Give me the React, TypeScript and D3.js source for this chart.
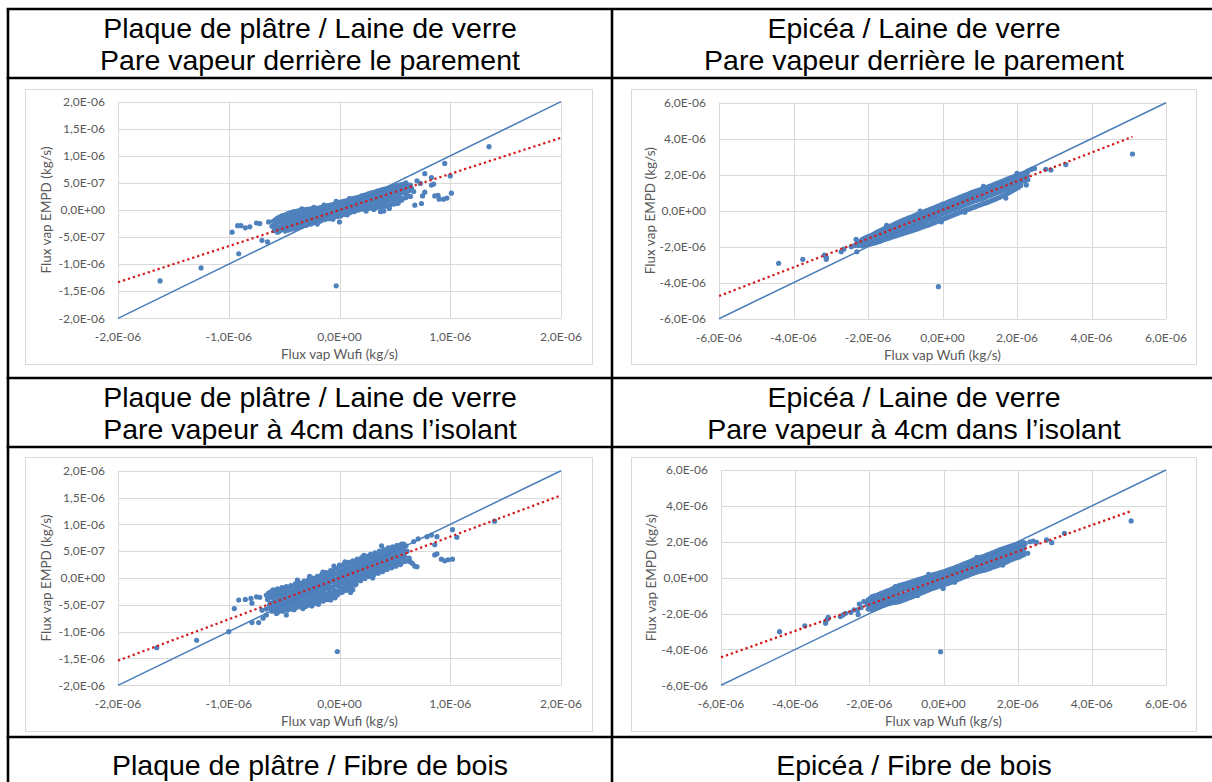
import React from 'react';
import * as d3 from 'd3';

// Point values are stored in units of 1e-8 kg/s: [Flux vap Wufi, Flux vap EMPD]
const UNIT = 1e-8;

// Plaque de plâtre / Laine de verre — pare vapeur derrière le parement
const ppLvParement: [number, number][] = [
  [-162,-131],[-125,-107],[-91,-81],[-97,-41],[-92,-29],[-89,-29],[-85,-33],[-81,-31],[-75,-24],[-72,-25],
  [-70,-56],[-65,-59],[-64,-22],[-3,-140],[0,-22],[37,-3],
  [135,117],[95,86],[100,63],[77,67],[83,60],[83,46],[70,54],[73,49],[62,46],[65,40],[101,31],[97,22],
  [94,20],[90,20],[89,27],[86,26],[75,26],[74,12],[68,9],[77,33],[85,48],
  [52,12],[56,18],[49,31],[67,34],[64,25],[61,28],[58,37],
  [-41,-3],[-34,2],[-23,5],[-14,9],[-3,16],[9,21],[-20,-26],[-6,-17],[7,-9],[24,-2],[31,1],[45,3],
  [-60,-21],[-61,-30],[-59,-38],
  [-56,-15],[-57,-24],[-55,-33],[-56,-41],
  [-52,-11],[-53,-20],[-51,-28],[-52,-36],
  [-48,-8],[-49,-16],[-47,-24],[-48,-32],[-49,-39],
  [-44,-5],[-45,-13],[-43,-21],[-44,-29],[-45,-36],
  [-40,-3],[-41,-10],[-39,-18],[-40,-26],[-41,-34],
  [-36,-1],[-37,-9],[-35,-16],[-36,-24],[-37,-32],
  [-32,0],[-33,-7],[-31,-14],[-32,-21],[-33,-29],
  [-28,1],[-29,-6],[-27,-13],[-28,-20],[-29,-27],
  [-24,2],[-25,-4],[-23,-11],[-24,-18],[-25,-25],
  [-20,3],[-21,-3],[-19,-9],[-20,-15],[-21,-22],
  [-16,5],[-17,-2],[-15,-8],[-16,-14],[-17,-20],
  [-12,7],[-13,0],[-11,-6],[-12,-12],[-13,-17],
  [-8,9],[-9,2],[-7,-4],[-8,-10],[-9,-15],
  [-4,11],[-5,4],[-3,-2],[-4,-8],[-5,-13],
  [0,14],[1,7],[-1,0],[0,-6],[1,-11],
  [4,16],[5,9],[3,3],[4,-3],[5,-8],
  [8,18],[9,12],[7,6],[8,0],[9,-5],
  [12,21],[13,14],[11,8],[12,2],[13,-3],
  [16,23],[17,17],[15,11],[16,5],[17,0],
  [20,26],[21,19],[19,13],[20,7],[21,2],
  [24,28],[25,22],[23,15],[24,9],[25,3],
  [28,31],[29,24],[27,17],[28,11],[29,4],
  [32,33],[33,27],[31,20],[32,13],[33,5],
  [36,36],[37,29],[35,22],[36,14],[37,6],
  [40,38],[41,31],[39,24],[40,16],[41,7],[40,-2],
  [44,40],[45,34],[43,26],[44,18],[45,9],
  [48,43],[49,36],[47,28],[48,20],[49,11],
  [52,45],[53,38],[51,30],[52,22],[53,13],
  [56,47],[57,40],[55,31],[56,21],
  [60,50],[61,42],[59,33],[60,23],
  [64,46],[63,36],
  [-58,-18],[-58,-27],[-58,-35],
  [-54,-13],[-54,-22],[-54,-31],[-54,-39],
  [-50,-10],[-50,-18],[-50,-26],[-50,-34],
  [-46,-6],[-46,-14],[-46,-22],[-46,-30],[-46,-37],
  [-42,-4],[-42,-12],[-42,-20],[-42,-28],[-42,-35],
  [-38,-2],[-38,-10],[-38,-17],[-38,-25],[-38,-33],
  [-34,0],[-34,-8],[-34,-15],[-34,-22],[-34,-30],
  [-30,1],[-30,-6],[-30,-13],[-30,-20],[-30,-28],
  [-26,2],[-26,-5],[-26,-12],[-26,-19],[-26,-26],
  [-22,3],[-22,-3],[-22,-10],[-22,-17],[-22,-23],
  [-18,4],[-18,-2],[-18,-8],[-18,-14],[-18,-21],
  [-14,6],[-14,-1],[-14,-7],[-14,-13],[-14,-18],
  [-10,8],[-10,1],[-10,-5],[-10,-11],[-10,-16],
  [-6,10],[-6,3],[-6,-3],[-6,-9],[-6,-14],
  [-2,12],[-2,5],[-2,-1],[-2,-7],[-2,-12],
  [2,15],[2,8],[2,2],[2,-4],[2,-9],
  [6,17],[6,10],[6,4],[6,-2],[6,-7],
  [10,20],[10,13],[10,7],[10,1],[10,-4],
  [14,22],[14,15],[14,9],[14,3],[14,-2],
  [18,24],[18,18],[18,12],[18,6],[18,1],
  [22,27],[22,20],[22,14],[22,8],[22,2],
  [26,30],[26,23],[26,16],[26,10],[26,3],
  [30,32],[30,25],[30,18],[30,12],[30,4],
  [34,35],[34,28],[34,21],[34,13],[34,5],
  [38,37],[38,30],[38,23],[38,15],[38,6],
  [42,39],[42,32],[42,25],[42,17],[42,8],
  [46,41],[46,35],[46,27],[46,19],[46,10],
  [50,44],[50,37],[50,29],[50,21],[50,12],
  [54,46],[54,39],[54,30],[54,21],
  [58,48],[58,41],[58,32],[58,22],
];

// Epicéa / Laine de verre — pare vapeur derrière le parement
const epLvParement: [number, number][] = [
  [-440,-292],[-375,-270],[-317,-246],[-312,-259],[-312,-270],[-272,-228],[-265,-214],[-245,-200],
  [-236,-194],[-232,-159],[-230,-228],[-214,-181],[-209,-190],[-11,-422],
  [200,208],[225,143],[225,208],[230,222],[239,230],[247,235],[277,230],[291,226],[331,256],[510,315],
  [209,152],[195,161],[-3,-62],[-150,-82],[-60,-2],[110,135],[170,70],[60,-8],
  [-228,-170],[-229,-182],[-227,-194],
  [-216,-160],[-217,-172],[-215,-184],[-216,-195],
  [-204,-148],[-205,-162],[-203,-176],[-204,-189],
  [-192,-138],[-193,-152],[-191,-167],[-192,-184],
  [-180,-125],[-181,-140],[-179,-158],[-180,-178],
  [-168,-112],[-169,-130],[-167,-150],[-168,-170],
  [-156,-100],[-157,-120],[-155,-140],[-156,-160],
  [-144,-90],[-145,-110],[-143,-132],[-144,-153],
  [-132,-78],[-133,-100],[-131,-122],[-132,-144],
  [-120,-66],[-121,-88],[-119,-112],[-120,-136],
  [-108,-55],[-109,-78],[-107,-103],[-108,-128],
  [-96,-45],[-97,-69],[-95,-95],[-96,-120],
  [-84,-35],[-85,-60],[-83,-87],[-84,-113],
  [-72,-25],[-73,-50],[-71,-78],[-72,-104],
  [-60,-15],[-61,-40],[-59,-68],[-60,-95],
  [-48,-5],[-49,-30],[-47,-58],[-48,-86],
  [-36,5],[-37,-20],[-35,-48],[-36,-78],
  [-24,15],[-25,-10],[-23,-38],[-24,-68],
  [-12,25],[-13,0],[-11,-28],[-12,-58],
  [0,36],[1,10],[-1,-18],[0,-48],
  [12,45],[13,20],[11,-8],[12,-38],
  [24,55],[25,30],[23,2],[24,-28],
  [36,65],[37,40],[35,12],[36,-18],
  [48,75],[49,50],[47,22],[48,-8],
  [60,85],[61,60],[59,32],[60,2],
  [72,95],[73,70],[71,42],[72,10],
  [84,105],[85,80],[83,52],[84,19],
  [96,113],[97,88],[95,60],[96,29],
  [108,121],[109,96],[107,68],[108,38],
  [120,130],[121,106],[119,78],[120,46],
  [132,140],[133,116],[131,88],[132,56],
  [144,150],[145,126],[143,98],[144,66],
  [156,160],[157,136],[155,108],[156,77],
  [168,170],[169,146],[167,118],[168,88],
  [180,180],[181,156],[179,128],[180,102],
  [192,190],[193,166],[191,140],[192,116],
  [204,198],[205,176],[203,152],[204,130],
  [216,205],[217,186],[215,165],
  [228,212],[227,192],[229,172],
  [-222,-176],[-222,-189],
  [-210,-154],[-210,-167],[-210,-180],[-210,-192],
  [-198,-143],[-198,-157],[-198,-172],[-198,-186],
  [-186,-131],[-186,-146],[-186,-162],[-186,-181],
  [-174,-118],[-174,-135],[-174,-154],[-174,-174],
  [-162,-106],[-162,-125],[-162,-145],[-162,-165],
  [-150,-95],[-150,-115],[-150,-136],[-150,-156],
  [-138,-84],[-138,-105],[-138,-127],[-138,-148],
  [-126,-72],[-126,-94],[-126,-117],[-126,-140],
  [-114,-60],[-114,-83],[-114,-107],[-114,-132],
  [-102,-50],[-102,-73],[-102,-99],[-102,-124],
  [-90,-40],[-90,-64],[-90,-91],[-90,-116],
  [-78,-30],[-78,-55],[-78,-82],[-78,-108],
  [-66,-20],[-66,-45],[-66,-73],[-66,-100],
  [-54,-10],[-54,-35],[-54,-63],[-54,-90],
  [-42,0],[-42,-25],[-42,-53],[-42,-82],
  [-30,10],[-30,-15],[-30,-43],[-30,-73],
  [-18,20],[-18,-5],[-18,-33],[-18,-63],
  [-6,30],[-6,5],[-6,-23],[-6,-53],
  [6,40],[6,15],[6,-13],[6,-43],
  [18,50],[18,25],[18,-3],[18,-33],
  [30,60],[30,35],[30,7],[30,-23],
  [42,70],[42,45],[42,17],[42,-13],
  [54,80],[54,55],[54,27],[54,-3],
  [66,90],[66,65],[66,37],[66,6],
  [78,100],[78,75],[78,47],[78,15],
  [90,109],[90,84],[90,56],[90,24],
  [102,117],[102,92],[102,64],[102,33],
  [114,126],[114,101],[114,73],[114,42],
  [126,135],[126,111],[126,83],[126,51],
  [138,145],[138,121],[138,93],[138,61],
  [150,155],[150,131],[150,103],[150,72],
  [162,165],[162,141],[162,113],[162,83],
  [174,175],[174,151],[174,123],[174,95],
  [186,185],[186,161],[186,134],[186,109],
  [198,194],[198,171],[198,146],[198,123],
  [210,202],[210,181],[210,158],[210,140],
  [222,208],[222,189],[222,168],
];

// Plaque de plâtre / Laine de verre — pare vapeur à 4cm dans l'isolant
const ppLv4cm: [number, number][] = [
  [-165,-130],[-129,-116],[-100,-100],[-95,-57],[-91,-41],[-85,-40],[-80,-38],[-79,-47],[-75,-35],
  [-72,-36],[-79,-83],[-73,-83],[-69,-75],[-66,-69],[-66,-32],[-62,-29],[-70,-60],[-66,-58],[-63,-49],
  [-48,-69],[-57,-66],[-2,-137],[-25,-52],[-8,-41],[10,-27],
  [38,60],[58,63],[67,68],[71,73],[79,77],[83,80],[88,77],[86,62],[86,43],[88,45],[92,35],[95,32],
  [98,34],[102,35],[102,90],[106,76],[140,106],[60,49],[63,37],[64,30],[66,27],[68,22],[70,21],
  [-38,-4],[-27,3],[-15,11],[-5,22],[5,30],[22,42],[-41,-59],[-33,-57],[-19,-49],[-4,-37],[12,-22],[30,0],
  [-64,-28],[-65,-40],[-63,-52],
  [-60,-22],[-61,-32],[-59,-42],[-60,-52],[-61,-62],
  [-56,-20],[-57,-29],[-55,-38],[-56,-47],[-57,-56],[-55,-63],
  [-52,-18],[-53,-27],[-51,-36],[-52,-45],[-53,-54],[-51,-62],
  [-48,-16],[-49,-25],[-47,-34],[-48,-43],[-49,-52],[-47,-60],
  [-44,-14],[-45,-23],[-43,-32],[-44,-41],[-45,-50],[-43,-58],
  [-40,-11],[-41,-20],[-39,-29],[-40,-38],[-41,-47],[-39,-55],
  [-36,-9],[-37,-18],[-35,-27],[-36,-36],[-37,-45],[-35,-54],
  [-32,-6],[-33,-15],[-31,-24],[-32,-33],[-33,-43],[-31,-53],
  [-28,-3],[-29,-12],[-27,-21],[-28,-31],[-29,-40],[-27,-50],
  [-24,0],[-25,-9],[-23,-18],[-24,-28],[-25,-38],[-23,-48],
  [-20,3],[-21,-6],[-19,-15],[-20,-25],[-21,-35],[-19,-45],
  [-16,7],[-17,-2],[-15,-12],[-16,-22],[-17,-32],[-15,-43],
  [-12,10],[-13,1],[-11,-9],[-12,-19],[-13,-30],[-11,-40],
  [-8,14],[-9,4],[-7,-6],[-8,-16],[-9,-27],[-7,-37],
  [-4,18],[-5,8],[-3,-2],[-4,-12],[-5,-23],[-3,-33],
  [0,24],[1,13],[-1,3],[0,-8],[1,-19],[-1,-29],
  [4,26],[5,16],[3,6],[4,-4],[5,-15],[3,-25],
  [8,29],[9,19],[7,9],[8,-1],[9,-11],[7,-21],
  [12,32],[13,22],[11,12],[12,3],[13,-7],[11,-16],
  [16,35],[17,25],[15,16],[16,7],[17,-2],[15,-11],
  [20,38],[21,29],[19,20],[20,11],[21,2],[19,-5],
  [24,41],[25,32],[23,23],[24,14],[25,5],[23,-1],
  [28,44],[29,35],[27,26],[28,17],[29,9],[27,3],
  [32,47],[33,38],[31,29],[32,20],[33,12],[31,6],
  [36,50],[37,41],[35,32],[36,24],[37,16],[35,9],
  [40,53],[41,44],[39,35],[40,27],[41,19],[39,12],
  [44,56],[45,47],[43,38],[44,30],[45,22],[43,16],
  [48,58],[49,49],[47,40],[48,32],[49,25],[47,19],
  [52,61],[53,52],[51,43],[52,35],[53,28],[51,22],
  [56,63],[57,54],[55,45],[56,37],[57,30],[55,25],
  [60,60],[61,50],[59,40],[60,31],
  [-62,-26],[-62,-36],[-62,-47],[-62,-57],
  [-58,-25],[-58,-34],[-58,-44],[-58,-53],[-58,-60],
  [-54,-23],[-54,-32],[-54,-41],[-54,-50],[-54,-58],
  [-50,-21],[-50,-30],[-50,-39],[-50,-48],[-50,-57],
  [-46,-19],[-46,-28],[-46,-37],[-46,-46],[-46,-55],
  [-42,-16],[-42,-25],[-42,-34],[-42,-43],[-42,-52],
  [-38,-14],[-38,-23],[-38,-32],[-38,-41],[-38,-50],
  [-34,-11],[-34,-20],[-34,-29],[-34,-38],[-34,-48],
  [-30,-8],[-30,-17],[-30,-26],[-30,-36],[-30,-45],[-30,-52],
  [-26,-5],[-26,-14],[-26,-23],[-26,-33],[-26,-43],[-26,-50],
  [-22,-2],[-22,-11],[-22,-20],[-22,-30],[-22,-40],[-22,-47],
  [-18,1],[-18,-8],[-18,-17],[-18,-27],[-18,-37],[-18,-44],
  [-14,5],[-14,-4],[-14,-14],[-14,-24],[-14,-35],[-14,-42],
  [-10,8],[-10,-1],[-10,-11],[-10,-21],[-10,-32],[-10,-39],
  [-6,12],[-6,3],[-6,-7],[-6,-18],[-6,-28],[-6,-35],
  [-2,17],[-2,8],[-2,-3],[-2,-14],[-2,-24],[-2,-31],
  [2,21],[2,10],[2,0],[2,-10],[2,-20],[2,-27],
  [6,24],[6,13],[6,3],[6,-7],[6,-17],[6,-23],
  [10,27],[10,17],[10,7],[10,-4],[10,-14],[10,-19],
  [14,30],[14,20],[14,11],[14,1],[14,-8],[14,-13],
  [18,33],[18,24],[18,15],[18,6],[18,-3],
  [22,36],[22,27],[22,18],[22,9],[22,1],
  [26,40],[26,30],[26,21],[26,12],[26,4],
  [30,42],[30,33],[30,24],[30,15],[30,7],
  [34,45],[34,36],[34,27],[34,18],[34,10],
  [38,48],[38,39],[38,30],[38,21],[38,13],
  [42,51],[42,42],[42,33],[42,25],[42,17],
  [46,54],[46,45],[46,36],[46,28],[46,21],
  [50,57],[50,48],[50,39],[50,31],[50,24],
  [54,59],[54,50],[54,41],[54,33],[54,27],
  [58,58],[58,49],[58,40],[58,32],
];

// Epicéa / Laine de verre — pare vapeur à 4cm dans l'isolant
const epLv4cm: [number, number][] = [
  [-442,-301],[-374,-268],[-318,-245],[-313,-232],[-311,-221],[-318,-254],[-278,-217],[-271,-208],
  [-264,-199],[-250,-193],[-241,-180],[-232,-180],[-230,-205],[-227,-147],[-222,-167],[-215,-134],
  [-206,-140],[-8,-413],[-1,-60],
  [227,136],[220,191],[233,200],[242,204],[251,197],[278,210],[292,195],[326,247],[506,316],[200,150],[210,160],
  [-130,-50],[-40,18],[90,113],[160,70],[-70,-100],[30,-25],
  [-204,-125],[-205,-150],[-203,-175],
  [-192,-106],[-193,-130],[-191,-155],[-192,-180],
  [-180,-98],[-181,-122],[-179,-146],[-180,-170],
  [-168,-88],[-169,-112],[-167,-136],[-168,-160],
  [-156,-78],[-157,-102],[-155,-126],[-156,-150],
  [-144,-69],[-145,-94],[-143,-119],[-144,-143],
  [-132,-58],[-133,-84],[-131,-110],[-132,-138],
  [-120,-45],[-121,-74],[-119,-104],[-120,-134],
  [-108,-38],[-109,-66],[-107,-96],[-108,-125],
  [-96,-30],[-97,-58],[-95,-87],[-96,-115],
  [-84,-22],[-85,-50],[-83,-78],[-84,-106],
  [-72,-14],[-73,-41],[-71,-68],[-72,-95],
  [-60,-6],[-61,-32],[-59,-58],[-60,-85],
  [-48,2],[-49,-24],[-47,-50],[-48,-75],
  [-36,10],[-37,-15],[-35,-40],[-36,-65],
  [-24,18],[-25,-7],[-23,-32],[-24,-56],
  [-12,25],[-13,1],[-11,-24],[-12,-48],
  [0,33],[1,8],[-1,-17],[0,-41],
  [12,42],[13,17],[11,-8],[12,-32],
  [24,51],[25,26],[23,2],[24,-22],
  [36,60],[37,36],[35,12],[36,-12],
  [48,70],[49,46],[47,22],[48,-2],
  [60,80],[61,56],[59,32],[60,8],
  [72,90],[73,66],[71,42],[72,18],
  [84,100],[85,76],[83,52],[84,28],
  [96,110],[97,85],[95,60],[96,36],
  [108,118],[109,93],[107,66],[108,40],
  [120,128],[121,102],[119,75],[120,48],
  [132,138],[133,112],[131,85],[132,58],
  [144,148],[145,121],[143,93],[144,66],
  [156,158],[157,131],[155,103],[156,76],
  [168,166],[169,140],[167,113],[168,86],
  [180,174],[181,148],[179,123],[180,98],
  [192,182],[193,156],[191,132],[192,108],
  [204,190],[205,165],[203,140],[204,115],
  [216,195],[217,170],[215,148],[216,128],
  [-198,-115],[-198,-140],[-198,-165],
  [-186,-102],[-186,-126],[-186,-150],[-186,-175],
  [-174,-93],[-174,-117],[-174,-141],[-174,-165],
  [-162,-83],[-162,-107],[-162,-131],[-162,-155],
  [-150,-73],[-150,-98],[-150,-122],[-150,-146],
  [-138,-63],[-138,-89],[-138,-114],[-138,-140],
  [-126,-51],[-126,-79],[-126,-107],[-126,-136],
  [-114,-41],[-114,-70],[-114,-100],[-114,-129],
  [-102,-34],[-102,-62],[-102,-91],[-102,-120],
  [-90,-26],[-90,-54],[-90,-82],[-90,-110],
  [-78,-18],[-78,-45],[-78,-73],[-78,-100],
  [-66,-10],[-66,-36],[-66,-63],[-66,-90],
  [-54,-2],[-54,-28],[-54,-54],[-54,-80],
  [-42,6],[-42,-20],[-42,-45],[-42,-70],
  [-30,14],[-30,-11],[-30,-36],[-30,-60],
  [-18,21],[-18,-3],[-18,-28],[-18,-52],
  [-6,29],[-6,4],[-6,-20],[-6,-44],
  [6,37],[6,12],[6,-12],[6,-36],
  [18,46],[18,21],[18,-3],[18,-27],
  [30,55],[30,31],[30,7],[30,-17],
  [42,65],[42,41],[42,17],[42,-7],
  [54,75],[54,51],[54,27],[54,3],
  [66,85],[66,61],[66,37],[66,13],
  [78,95],[78,71],[78,47],[78,23],
  [90,105],[90,80],[90,56],[90,32],
  [102,114],[102,89],[102,63],[102,38],
  [114,123],[114,97],[114,70],[114,44],
  [126,133],[126,107],[126,80],[126,53],
  [138,143],[138,116],[138,89],[138,62],
  [150,153],[150,126],[150,98],[150,71],
  [162,162],[162,135],[162,108],[162,81],
  [174,170],[174,144],[174,118],[174,92],
  [186,178],[186,152],[186,127],[186,103],
  [198,186],[198,160],[198,136],[198,112],
  [210,192],[210,167],[210,144],[210,122],
];

// Axis ticks (kg/s)
const narrowTicksY = [-2e-6, -1.5e-6, -1e-6, -5e-7, 0, 5e-7, 1e-6, 1.5e-6, 2e-6];
const narrowTicksX = [-2e-6, -1e-6, 0, 1e-6, 2e-6];
const wideTicks = [-6e-6, -4e-6, -2e-6, 0, 2e-6, 4e-6, 6e-6];

// Linear trendlines of each panel: slope, intercept (kg/s), drawn x-range
const trendSlopes = [0.667, 0.797, 0.77, 0.737];
const trendIntercepts = [0, 4e-8, 0, -2e-8];
const trendStarts = [-2e-6, -6e-6, -2e-6, -6e-6];
const trendEnds = [2e-6, 5.1e-6, 2e-6, 5.05e-6];

const titleRows: string[][][] = [
  [["Plaque de plâtre / Laine de verre", "Pare vapeur derrière le parement"],
   ["Epicéa / Laine de verre", "Pare vapeur derrière le parement"]],
  [["Plaque de plâtre / Laine de verre", "Pare vapeur à 4cm dans l’isolant"],
   ["Epicéa / Laine de verre", "Pare vapeur à 4cm dans l’isolant"]],
  [["Plaque de plâtre / Fibre de bois"], ["Epicéa / Fibre de bois"]],
];

const X_TITLE = "Flux vap Wufi (kg/s)";
const Y_TITLE = "Flux vap EMPD (kg/s)";

function excelSci(v: number): string {
  const [m, e] = v.toExponential(1).split('e');
  const n = parseInt(e, 10);
  return m.replace('.', ',') + 'E' + (n < 0 ? '-' : '+') + String(Math.abs(n)).padStart(2, '0');
}

type Box = { x0: number; x1: number; y0: number; y1: number };

const GRID = '#d9d9d9';
const LABEL = '#595959';
const BLUE = '#4f81bd';
const LINE_BLUE = '#4a7ebb';
const RED = '#d21c1c';
const AXIS_FONT = "Lato, 'Open Sans', sans-serif";
const TITLE_FONT = "'Liberation Sans', Arial, sans-serif";

function Panel(props: {
  frame: Box; plot: Box; domain: [number, number];
  xTicks: number[]; yTicks: number[]; points: [number, number][];
  idx: number; yTitleX: number;
}) {
  const { frame, plot, domain, xTicks, yTicks, points, idx, yTitleX } = props;
  const x = d3.scaleLinear().domain(domain).range([plot.x0, plot.x1]);
  const y = d3.scaleLinear().domain(domain).range([plot.y1, plot.y0]);
  const m = trendSlopes[idx], b = trendIntercepts[idx];
  const xs = trendStarts[idx], xe = trendEnds[idx];
  const line = d3.line<[number, number]>().x(d => x(d[0])).y(d => y(d[1]));
  const cy = (plot.y0 + plot.y1) / 2;
  const cx = (plot.x0 + plot.x1) / 2;
  return (
    <g>
      <rect x={frame.x0 + 0.5} y={frame.y0 + 0.5} width={frame.x1 - frame.x0} height={frame.y1 - frame.y0}
        fill="#fff" stroke={GRID} strokeWidth={1} />
      {xTicks.map(t => (
        <line key={'vx' + t} x1={Math.round(x(t)) + 0.5} x2={Math.round(x(t)) + 0.5} y1={plot.y0} y2={plot.y1}
          stroke={GRID} strokeWidth={1} />
      ))}
      {yTicks.map(t => (
        <line key={'hy' + t} x1={plot.x0} x2={plot.x1} y1={Math.round(y(t)) + 0.5} y2={Math.round(y(t)) + 0.5}
          stroke={GRID} strokeWidth={1} />
      ))}
      {yTicks.map(t => (
        <text key={'ly' + t} x={plot.x0 - 13} y={y(t)} dy="0.35em" textAnchor="end"
          fontFamily={AXIS_FONT} fontSize={12} fill={LABEL}>{excelSci(t)}</text>
      ))}
      {xTicks.map(t => (
        <text key={'lx' + t} x={x(t)} y={plot.y1 + 23} textAnchor="middle"
          fontFamily={AXIS_FONT} fontSize={12} fill={LABEL}>{excelSci(t)}</text>
      ))}
      <text x={cx} y={plot.y1 + 41} textAnchor="middle" fontFamily={AXIS_FONT} fontSize={13.5} fill={LABEL}>{X_TITLE}</text>
      <text transform={`translate(${yTitleX},${cy}) rotate(-90)`} dy="0.35em" textAnchor="middle"
        fontFamily={AXIS_FONT} fontSize={13.5} fill={LABEL}>{Y_TITLE}</text>
      <g>
        {points.map((p, i) => (
          <circle key={i} cx={x(p[0] * UNIT)} cy={y(p[1] * UNIT)} r={2.6} fill={BLUE} />
        ))}
      </g>
      <path d={line([[domain[0], domain[0]], [domain[1], domain[1]]]) || ''} stroke={LINE_BLUE} strokeWidth={1.5} fill="none" />
      <path d={line([[xs, m * xs + b], [xe, m * xe + b]]) || ''} stroke={RED} strokeWidth={2.2}
        strokeDasharray="2.3 2.9" fill="none" />
    </g>
  );
}

export default function App() {
  const W = 1212, H = 782;
  const left = 8, mid = 612, right = 1216;
  const rowLines = [9, 78, 378, 447, 737];
  const colCenters = [(left + mid) / 2, (mid + right) / 2];
  const titleTops = [rowLines[0], rowLines[2], rowLines[4]];

  const panels = [
    { frame: { x0: 25, x1: 592, y0: 89, y1: 364 }, plot: { x0: 118, x1: 561, y0: 101.7, y1: 318.3 },
      domain: [-2e-6, 2e-6] as [number, number], xTicks: narrowTicksX, yTicks: narrowTicksY, points: ppLvParement, yTitleX: 46 },
    { frame: { x0: 631, x1: 1196, y0: 89, y1: 364 }, plot: { x0: 719, x1: 1166, y0: 102.7, y1: 318.7 },
      domain: [-6e-6, 6e-6] as [number, number], xTicks: wideTicks, yTicks: wideTicks, points: epLvParement, yTitleX: 650 },
    { frame: { x0: 25, x1: 592, y0: 457, y1: 731 }, plot: { x0: 118, x1: 561, y0: 470.7, y1: 685.3 },
      domain: [-2e-6, 2e-6] as [number, number], xTicks: narrowTicksX, yTicks: narrowTicksY, points: ppLv4cm, yTitleX: 46 },
    { frame: { x0: 631, x1: 1196, y0: 457, y1: 731 }, plot: { x0: 721, x1: 1166, y0: 470, y1: 685.3 },
      domain: [-6e-6, 6e-6] as [number, number], xTicks: wideTicks, yTicks: wideTicks, points: epLv4cm, yTitleX: 651 },
  ];

  return (
    <svg width={W} height={H} viewBox={`0 0 ${W} ${H}`}
      style={{ position: 'absolute', left: 0, top: 0, display: 'block', background: '#fff' }}>
      <rect x={0} y={0} width={W} height={H} fill="#fff" />
      {panels.map((p, i) => (
        <Panel key={i} idx={i} {...p} />
      ))}
      {titleRows.map((row, r) => row.map((lines, c) => (
        <text key={`t${r}-${c}`} x={colCenters[c]} textAnchor="middle" fontFamily={TITLE_FONT} fontSize={28.5} fill="#000">
          {lines.map((ln, k) => (
            <tspan key={k} x={colCenters[c]} y={titleTops[r] + (r === 2 ? 38 : 29) + k * 32}>{ln}</tspan>
          ))}
        </text>
      )))}
      {/* table rules */}
      <g stroke="#000" strokeWidth={2.6}>
        {rowLines.map((yy, i) => (
          <line key={'r' + i} x1={left - 1.3} x2={W + 2} y1={yy} y2={yy} />
        ))}
        <line x1={left} x2={left} y1={rowLines[0]} y2={H + 2} />
        <line x1={mid} x2={mid} y1={rowLines[0]} y2={H + 2} />
      </g>
    </svg>
  );
}
